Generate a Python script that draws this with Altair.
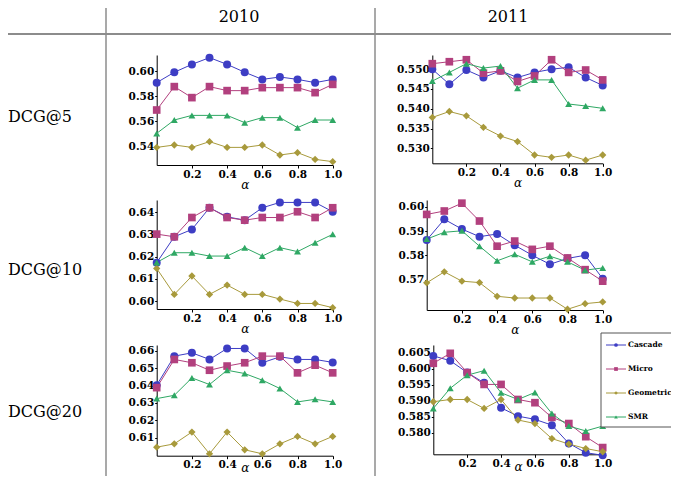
import altair as alt
import pandas as pd

W, H = 663, 468

alpha = [0.0, 0.1, 0.2, 0.3, 0.4, 0.5, 0.6, 0.7, 0.8, 0.9, 1.0]
methods = ["Cascade", "Micro", "Geometric", "SMR"]
method_colors = ["#3d3dc4", "#b2407e", "#a89a3c", "#2fa864"]
method_shapes = ["circle", "square", "diamond", "triangle-up"]
method_sizes = [64, 48, 52, 44]

years = ["2010", "2011"]
metrics = ["DCG@5", "DCG@10", "DCG@20"]

# ---- DCG@5 ----
d5_2010_cascade = [0.5907, 0.5990, 0.6053, 0.6107, 0.6053, 0.5990, 0.5933, 0.5952, 0.5933, 0.5907, 0.5933]
d5_2010_micro = [0.5688, 0.5875, 0.5787, 0.5875, 0.5843, 0.5843, 0.5867, 0.5867, 0.5867, 0.5827, 0.5893]
d5_2010_geometric = [0.5389, 0.5408, 0.5389, 0.5435, 0.5389, 0.5389, 0.5408, 0.5328, 0.5347, 0.5293, 0.5275]
d5_2010_smr = [0.5501, 0.5608, 0.5645, 0.5645, 0.5645, 0.5587, 0.5627, 0.5627, 0.5547, 0.5608, 0.5608]

d5_2011_cascade = [0.5500, 0.5462, 0.5498, 0.5479, 0.5496, 0.5479, 0.5492, 0.5500, 0.5505, 0.5479, 0.5459]
d5_2011_micro = [0.5514, 0.5519, 0.5524, 0.5490, 0.5496, 0.5469, 0.5483, 0.5524, 0.5492, 0.5498, 0.5473]
d5_2011_geometric = [0.5378, 0.5393, 0.5382, 0.5353, 0.5331, 0.5317, 0.5283, 0.5277, 0.5283, 0.5270, 0.5283]
d5_2011_smr = [0.5470, 0.5492, 0.5514, 0.5503, 0.5508, 0.5452, 0.5473, 0.5473, 0.5412, 0.5407, 0.5401]

# ---- DCG@10 ----
d10_2010_cascade = [0.6173, 0.6290, 0.6323, 0.6421, 0.6380, 0.6365, 0.6421, 0.6445, 0.6445, 0.6445, 0.6403]
d10_2010_micro = [0.6302, 0.6290, 0.6377, 0.6421, 0.6377, 0.6365, 0.6377, 0.6377, 0.6403, 0.6377, 0.6421]
d10_2010_geometric = [0.6147, 0.6030, 0.6113, 0.6030, 0.6072, 0.6030, 0.6030, 0.6009, 0.5989, 0.5989, 0.5970]
d10_2010_smr = [0.6174, 0.6218, 0.6218, 0.6203, 0.6203, 0.6241, 0.6203, 0.6241, 0.6223, 0.6263, 0.6301]

d10_2011_cascade = [0.5863, 0.5948, 0.5908, 0.5877, 0.5888, 0.5842, 0.5801, 0.5764, 0.5788, 0.5801, 0.5705]
d10_2011_micro = [0.5968, 0.5982, 0.6014, 0.5941, 0.5838, 0.5859, 0.5825, 0.5838, 0.5790, 0.5742, 0.5695]
d10_2011_geometric = [0.5688, 0.5733, 0.5695, 0.5689, 0.5633, 0.5626, 0.5626, 0.5626, 0.5580, 0.5603, 0.5610]
d10_2011_smr = [0.5867, 0.5895, 0.5901, 0.5838, 0.5778, 0.5805, 0.5774, 0.5797, 0.5774, 0.5740, 0.5749]

# ---- DCG@20 ----
d20_2010_cascade = [0.6402, 0.6569, 0.6588, 0.6550, 0.6613, 0.6613, 0.6531, 0.6565, 0.6550, 0.6550, 0.6533]
d20_2010_micro = [0.6388, 0.6550, 0.6531, 0.6488, 0.6512, 0.6531, 0.6569, 0.6569, 0.6473, 0.6517, 0.6473]
d20_2010_geometric = [0.6046, 0.6065, 0.6133, 0.6008, 0.6133, 0.6031, 0.6008, 0.6065, 0.6108, 0.6065, 0.6108]
d20_2010_smr = [0.6325, 0.6344, 0.6444, 0.6406, 0.6488, 0.6469, 0.6431, 0.6383, 0.6306, 0.6321, 0.6306]

d20_2011_cascade = [0.6040, 0.6025, 0.5988, 0.5956, 0.5878, 0.5852, 0.5842, 0.5824, 0.5767, 0.5738, 0.5730]
d20_2011_micro = [0.6017, 0.6048, 0.5988, 0.5951, 0.5951, 0.5904, 0.5894, 0.5848, 0.5829, 0.5788, 0.5754]
d20_2011_geometric = [0.5897, 0.5904, 0.5904, 0.5876, 0.5904, 0.5840, 0.5829, 0.5782, 0.5765, 0.5751, 0.5741]
d20_2011_smr = [0.5876, 0.5939, 0.5980, 0.5994, 0.5925, 0.5904, 0.5926, 0.5860, 0.5821, 0.5806, 0.5821]

x_tick_values = [0.2, 0.4, 0.6, 0.8, 1.0]

panels = [
    # series, y-domain, y-ticks, y-format, x-range(px), y-range(px), title padding
    ([d5_2010_cascade, d5_2010_micro, d5_2010_geometric, d5_2010_smr],
     [0.5248, 0.6128], [0.54, 0.56, 0.58, 0.60], ".2f", [148.7, 324.7], [157, 47], 0),
    ([d5_2011_cascade, d5_2011_micro, d5_2011_geometric, d5_2011_smr],
     [0.5262, 0.5536], [0.530, 0.535, 0.540, 0.545, 0.550], ".3f", [424.3, 594.7], [155.3, 47], 0),
    ([d10_2010_cascade, d10_2010_micro, d10_2010_geometric, d10_2010_smr],
     [0.5964, 0.6456], [0.60, 0.61, 0.62, 0.63, 0.64], ".2f", [148.7, 324.7], [301, 192], 0),
    ([d10_2011_cascade, d10_2011_micro, d10_2011_geometric, d10_2011_smr],
     [0.5577, 0.6027], [0.57, 0.58, 0.59, 0.60], ".2f", [418.7, 594.7], [302, 192], 0),
    ([d20_2010_cascade, d20_2010_micro, d20_2010_geometric, d20_2010_smr],
     [0.5997, 0.6633], [0.61, 0.62, 0.63, 0.64, 0.65, 0.66], ".2f", [148.7, 324.7], [447.7, 337], -8),
    ([d20_2011_cascade, d20_2011_micro, d20_2011_geometric, d20_2011_smr],
     [0.5733, 0.6074], [0.580, 0.585, 0.590, 0.595, 0.600, 0.605], ".3f", [425.3, 594.7], [446.3, 337], -7),
]

color_enc = alt.Color("method:N", scale=alt.Scale(domain=methods, range=method_colors), legend=None)
shape_enc = alt.Shape("method:N", scale=alt.Scale(domain=methods, range=method_shapes), legend=None)
size_enc = alt.Size("method:N", scale=alt.Scale(domain=methods, range=method_sizes), legend=None)


def make_panel(series, ydom, yticks, yfmt, xr, yr, tpad):
    rows = []
    for m, vals in zip(methods, series):
        for a, v in zip(alpha, vals):
            rows.append({"alpha": a, "value": v, "method": m})
    df = pd.DataFrame(rows)
    x = alt.X("alpha:Q",
              scale=alt.Scale(domain=[0, 1], range=xr, nice=False, zero=False),
              axis=alt.Axis(orient="bottom", offset=yr[0] - H, values=x_tick_values, format=".1f",
                            title="α", tickSize=3, labelPadding=1, titlePadding=tpad,
                            grid=False, labelFlush=False, labelOverlap=False))
    y = alt.Y("value:Q",
              scale=alt.Scale(domain=ydom, range=yr, nice=False, zero=False),
              axis=alt.Axis(orient="left", offset=-xr[0], values=yticks, format=yfmt,
                            title=None, tickSize=2, labelPadding=1, grid=False,
                            labelFlush=False, labelOverlap=False))
    line = alt.Chart(df).mark_line(strokeWidth=1).encode(x=x, y=y, color=color_enc)
    pts = alt.Chart(df).mark_point(filled=True, opacity=1).encode(
        x=x, y=y, color=color_enc, shape=shape_enc, size=size_enc)
    return alt.layer(line, pts)


one = pd.DataFrame({"k": [0]})
layers = []

# table lines
layers.append(alt.Chart(one).mark_rule(color="#8c8c8c", strokeWidth=2).encode(
    x=alt.value(0), x2=alt.value(667), y=alt.value(26)))
for vx in [98, 367]:
    layers.append(alt.Chart(one).mark_rule(color="#8c8c8c", strokeWidth=1.5).encode(
        x=alt.value(vx), y=alt.value(0), y2=alt.value(H)))

# column headers
for yr_label, cx in zip(years, [231, 500]):
    layers.append(alt.Chart(one).mark_text(text=yr_label, font="DejaVu Serif", fontSize=16,
                                           align="center", baseline="middle", color="black").encode(
        x=alt.value(cx), y=alt.value(9)))

# row labels
for lab, cy in zip(metrics, [109, 262, 404]):
    layers.append(alt.Chart(one).mark_text(text=lab, font="DejaVu Serif", fontSize=16,
                                           align="left", baseline="middle", color="black").encode(
        x=alt.value(0), y=alt.value(cy)))

for (series, ydom, yticks, yfmt, xr, yr, tpad) in panels:
    layers.append(make_panel(series, ydom, yticks, yfmt, xr, yr, tpad))

# legend
leg_df = pd.DataFrame({"method": methods})
leg_y = alt.Y("method:N", scale=alt.Scale(type="point", domain=methods, range=[337, 409], padding=0),
              axis=None)
layers.append(alt.Chart(one).mark_rect(fill="white", stroke="#555555", strokeWidth=1).encode(
    x=alt.value(593), x2=alt.value(690), y=alt.value(325), y2=alt.value(419)))
layers.append(alt.Chart(leg_df).mark_rule(strokeWidth=1).encode(
    x=alt.value(598), x2=alt.value(618), y=leg_y, color=color_enc))
layers.append(alt.Chart(leg_df).mark_point(filled=True, opacity=1, size=14).encode(
    x=alt.value(608), y=leg_y, color=color_enc, shape=shape_enc))
layers.append(alt.Chart(leg_df).mark_text(align="left", baseline="middle", font="DejaVu Serif",
                                          fontWeight="bold", fontSize=7.5, color="black").encode(
    x=alt.value(620), y=leg_y, text="method:N"))

chart = alt.layer(*layers).resolve_scale(x="independent", y="independent").properties(
    width=W, height=H, padding=0, autosize="none"
).configure_view(stroke="transparent").configure_axis(
    labelFont="DejaVu Serif", labelFontWeight="bold", labelFontSize=10.5, labelColor="black",
    domainColor="black", tickColor="black", domainWidth=1, tickWidth=1,
    titleFont="DejaVu Serif", titleFontStyle="italic", titleFontWeight="normal",
    titleFontSize=12, titleColor="black"
)

chart.save("out.html", embed_options={"renderer": "svg", "actions": False})
